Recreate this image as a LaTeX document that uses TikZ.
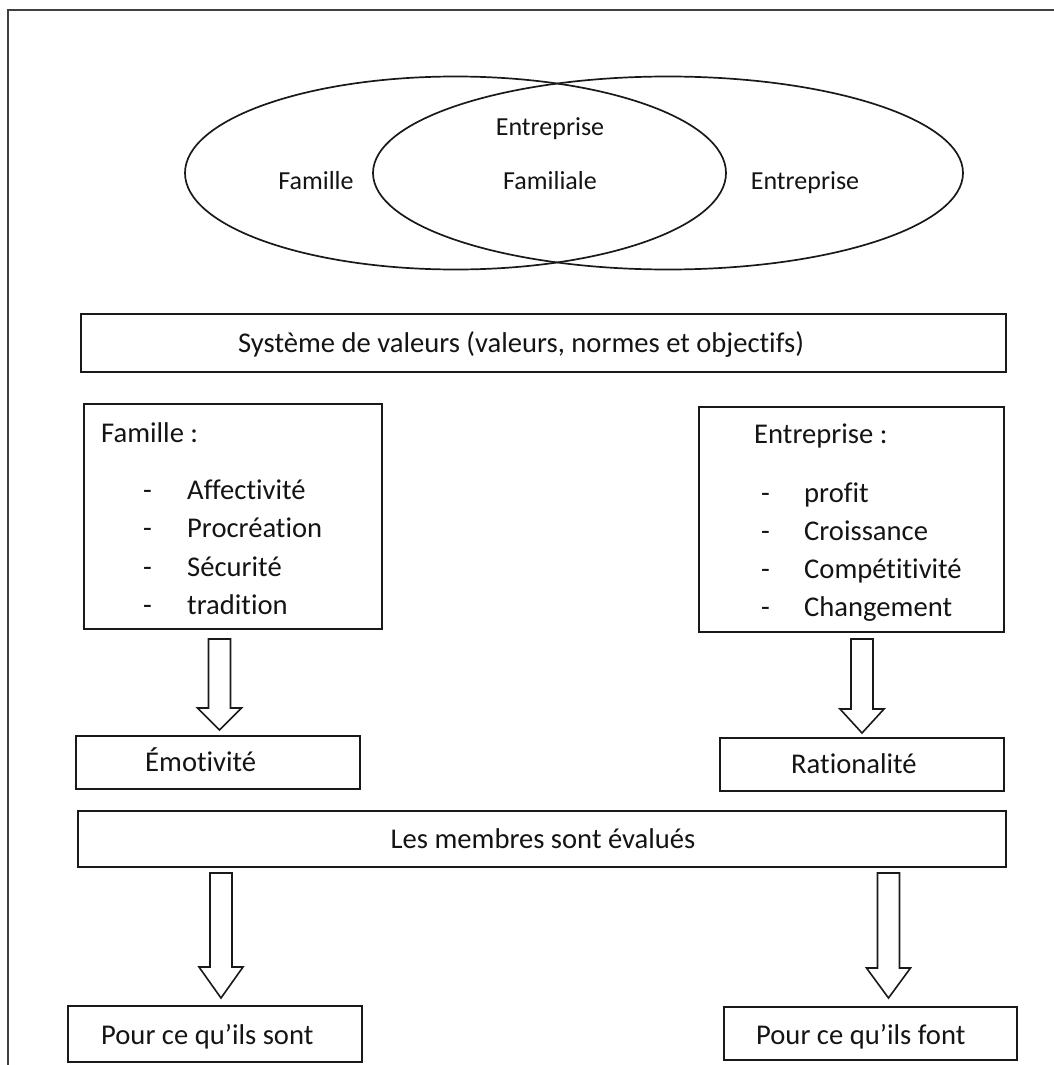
\documentclass[tikz,border=0pt]{standalone}
\usepackage{fontspec}
\setmainfont{Carlito}[Ligatures=CommonOff]
\usetikzlibrary{shapes.geometric,calc}
\tikzset{
  frame/.style={line width=1.9pt, draw=black!75},
  box/.style={draw=black!90, line width=1.8pt, rectangle, inner sep=0pt, outer sep=0pt},
  ell/.style={draw=black!90, line width=1.7pt, ellipse, inner sep=0pt, outer sep=0pt},
  big/.style={font=\fontsize{28.6}{34}\selectfont, text=black!92, inner sep=0pt, anchor=base west},
  small/.style={font=\fontsize{26}{31}\selectfont, text=black!92, inner sep=0pt, anchor=base},
  barrow/.style={draw=black!90, line width=1.6pt, line join=miter,
    to path={let \p1=(\tikztostart), \p2=(\tikztotarget) in
      (\x1-11pt,\y1) -- (\x1+11pt,\y1) -- (\x1+11pt,\y2+#1) -- (\x1+22pt,\y2+#1)
      -- (\x2,\y2) -- (\x1-22pt,\y2+#1) -- (\x1-11pt,\y2+#1) -- cycle}},
}
\begin{document}
\begin{tikzpicture}[x=1pt,y=-1pt]
\useasboundingbox (0,0) rectangle (1054,1065);
% outer frame (only left and top edges visible)
\coordinate (fbl) at (8,1070);
\coordinate (ftl) at (8,10);
\coordinate (ftr) at (1060,10);
\draw[frame] (fbl) -- (ftl) -- (ftr);

% Venn ellipses
\node[ell, minimum width=541pt, minimum height=193pt] (ellfam) at (455.5,173) {};
\node[ell, minimum width=590pt, minimum height=193pt] (ellent) at (668,173) {};
\node[small] (tfam) at (316,189) {Famille};
\node[small] (tef1) at (550,135) {Entreprise};
\node[small] (tef2) at (550,189) {Familiale};
\node[small] (tent) at (805,189) {Entreprise};

% Systeme de valeurs
\node[box, minimum width=925pt, minimum height=58pt] (sys) at (543.5,343) {};
\node[big] (tsys) at (238,352) {Système de valeurs (valeurs, normes et objectifs)};

% Famille box
\node[box, minimum width=298pt, minimum height=225pt] (fam) at (233,516.5) {};
\node[big] (tfamh) at (101,442) {Famille :};
\node[big] (fd1) at (143,499) {-};
\node[big] (fi1) at (187,499) {Affectivité};
\node[big] (fd2) at (143,537.5) {-};
\node[big] (fi2) at (187,537.5) {Procréation};
\node[big] (fd3) at (143,576) {-};
\node[big] (fi3) at (187,576) {Sécurité};
\node[big] (fd4) at (143,614.5) {-};
\node[big] (fi4) at (187,614.5) {tradition};

% Entreprise box
\node[box, minimum width=305pt, minimum height=225pt] (ent) at (851.5,519.5) {};
\node[big] (tenth) at (754,443) {Entreprise :};
\node[big] (ed1) at (761,502) {-};
\node[big] (ei1) at (804,502) {profit};
\node[big] (ed2) at (761,540) {-};
\node[big] (ei2) at (804,540) {Croissance};
\node[big] (ed3) at (761,578) {-};
\node[big] (ei3) at (804,578) {Compétitivité};
\node[big] (ed4) at (761,616) {-};
\node[big] (ei4) at (804,616) {Changement};

% Emotivite / Rationalite
\node[box, minimum width=284pt, minimum height=53pt] (emo) at (218,762.5) {};
\node[big] (temo) at (145,771) {Émotivité};
\node[box, minimum width=284pt, minimum height=53pt] (rat) at (862,764.5) {};
\node[big] (trat) at (791,773) {Rationalité};

% Les membres
\node[box, minimum width=928pt, minimum height=56pt] (mem) at (542,839) {};
\node[big, anchor=base] (tmem) at (543,848) {Les membres sont évalués};

% bottom boxes
\node[box, minimum width=294pt, minimum height=56pt] (sont) at (215,1034) {};
\node[big] (tsont) at (101,1044) {Pour ce qu’ils sont};
\node[box, minimum width=293pt, minimum height=53pt] (font) at (870.5,1033.5) {};
\node[big] (tfont) at (756,1044) {Pour ce qu’ils font};

% block arrows
\coordinate (a1s) at (219.5,639);
\coordinate (a1e) at (219.5,730);
\coordinate (a2s) at (862,639);
\coordinate (a2e) at (862,733);
\coordinate (a3s) at (221,873);
\coordinate (a3e) at (221,998);
\coordinate (a4s) at (888.5,873);
\coordinate (a4e) at (888.5,998);
\draw[barrow=22pt] (a1s) to (a1e);
\draw[barrow=24pt] (a2s) to (a2e);
\draw[barrow=31pt] (a3s) to (a3e);
\draw[barrow=30pt] (a4s) to (a4e);
\end{tikzpicture}
\end{document}
